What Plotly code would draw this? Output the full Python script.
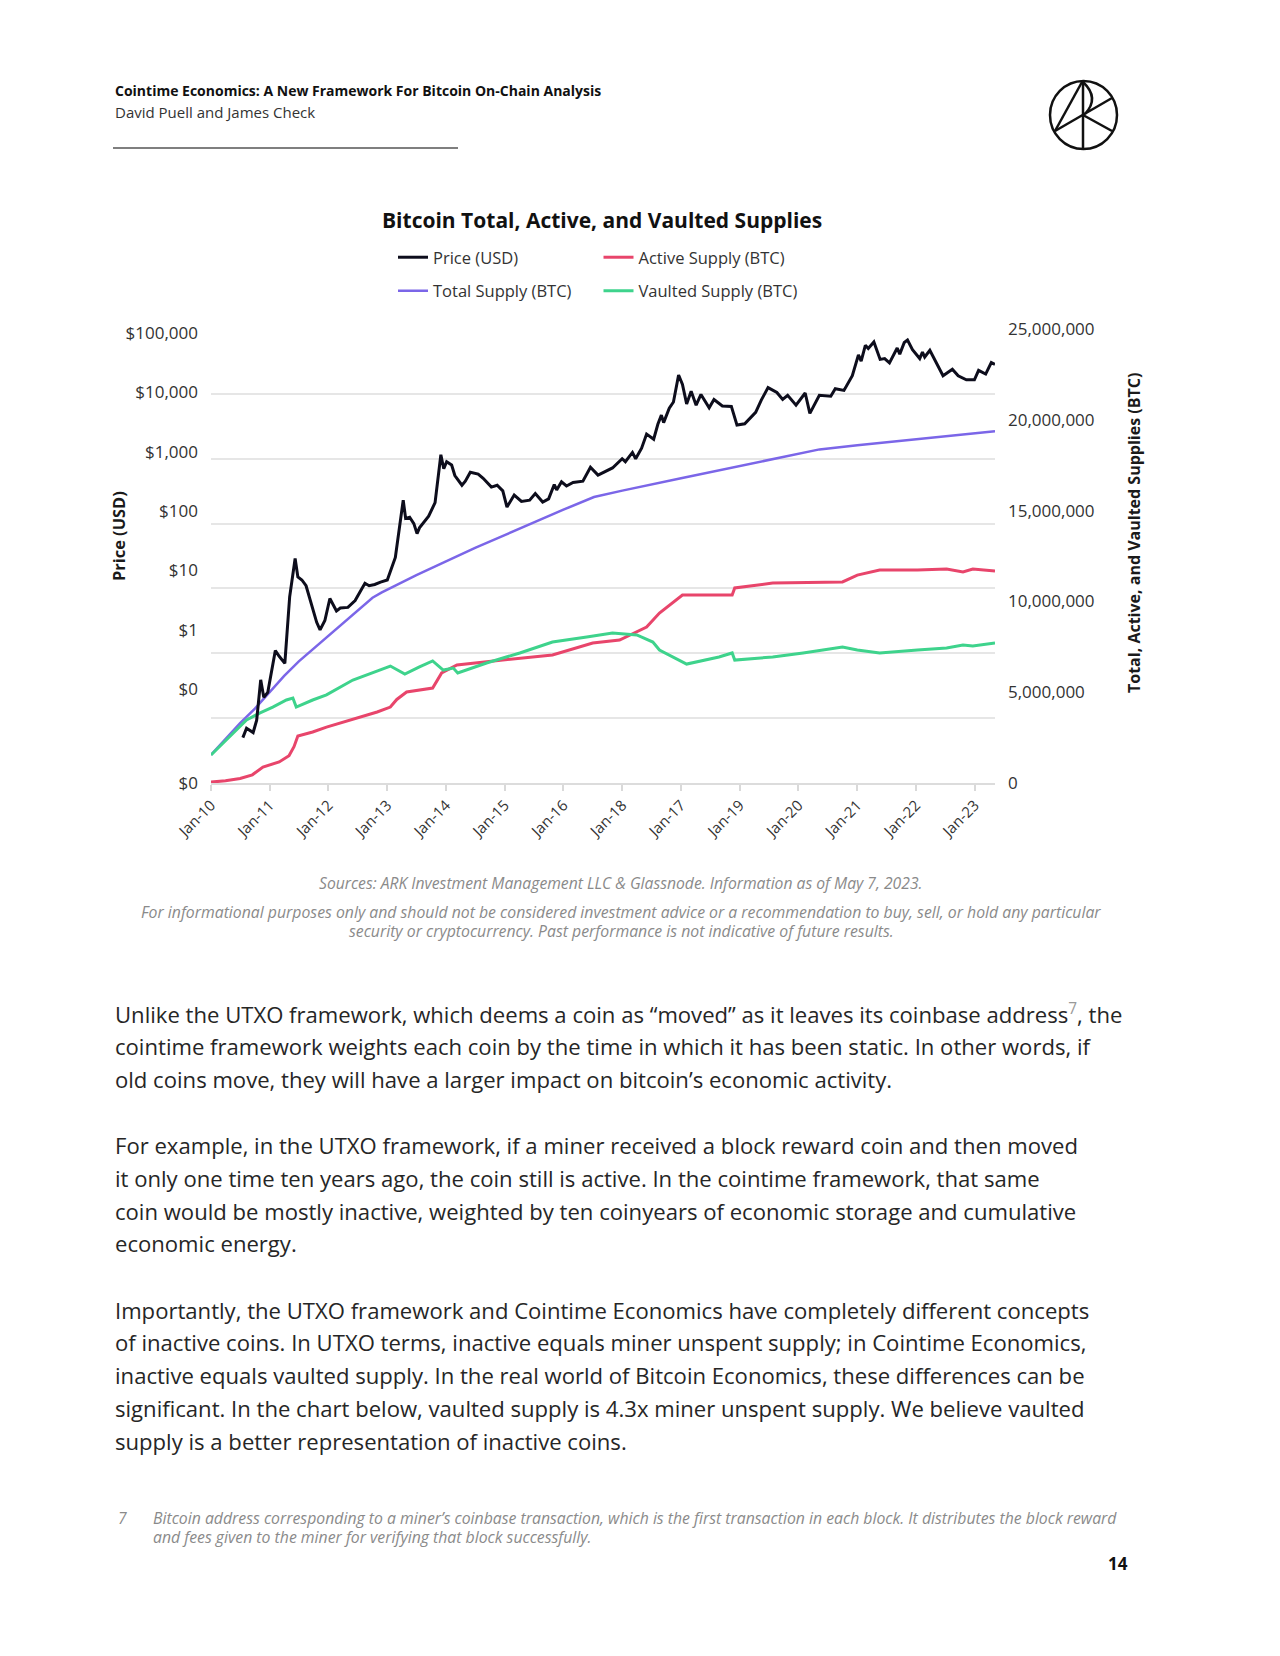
import plotly.graph_objects as go

# ---------------- data ----------------
x_tick_dates = [f"{y}-01-01" for y in range(2010, 2024)]
x_tick_labels = ["Jan-10", "Jan-11", "Jan-12", "Jan-13", "Jan-14", "Jan-15", "Jan-16",
                 "Jan-18", "Jan-17", "Jan-19", "Jan-20", "Jan-21", "Jan-22", "Jan-23"]

price_tick_labels = ["$100,000", "$10,000", "$1,000", "$100", "$10", "$1", "$0", "$0"]
price_tick_exp = [4.94, 4.03, 3.10, 2.20, 1.28, 0.36, -0.55, -2.0]
price_grid_exp = [-2, -1, 0, 1, 2, 3, 4, 5]
supply_ticks = [0, 5_000_000, 10_000_000, 15_000_000, 20_000_000, 25_000_000]

total_dates = ["2010-01-01", "2010-04-01", "2010-07-01", "2010-10-01", "2011-01-01", "2011-04-01",
               "2011-07-01", "2011-10-01", "2012-01-01", "2012-04-01", "2012-07-01", "2012-10-01",
               "2012-11-28", "2013-01-01", "2013-07-01", "2014-01-01", "2014-07-01", "2015-01-01",
               "2015-07-01", "2016-01-01", "2016-07-09", "2017-01-01", "2018-01-01", "2019-01-01",
               "2020-01-01", "2020-05-11", "2021-01-01", "2022-01-01", "2023-01-01", "2023-05-07"]
total_supply_m = [1.55, 2.45, 3.3, 4.1, 5.0, 5.9, 6.7, 7.4, 8.1, 8.8, 9.5, 10.2,
                  10.5, 10.65, 11.45, 12.2, 12.95, 13.65, 14.35, 15.05, 15.75, 16.1, 16.78, 17.45,
                  18.15, 18.37, 18.6, 18.92, 19.25, 19.37]

active_dates = ["2010-01-01", "2010-04-01", "2010-07-01", "2010-09-15", "2010-11-20", "2011-01-01",
                "2011-03-01", "2011-05-01", "2011-06-01", "2011-06-25", "2011-09-25", "2011-12-20",
                "2012-06-25", "2012-10-30", "2013-01-20", "2013-03-01", "2013-05-01", "2013-07-20",
                "2013-10-10", "2013-12-05", "2014-03-10", "2014-12-20", "2015-10-25", "2016-07-01",
                "2016-12-15", "2017-06-01", "2017-08-20", "2018-01-10", "2018-11-15", "2018-12-01",
                "2019-07-25", "2020-10-01", "2021-01-01", "2021-05-20", "2022-01-10", "2022-07-10",
                "2022-10-20", "2022-12-20", "2023-05-07"]
active_supply_m = [0.05, 0.12, 0.25, 0.45, 0.88, 1.0,
                   1.16, 1.5, 2.0, 2.59, 2.81, 3.08,
                   3.58, 3.91, 4.18, 4.6, 5.01, 5.12,
                   5.23, 6.06, 6.5, 6.77, 7.05, 7.71,
                   7.87, 8.59, 9.36, 10.35, 10.35, 10.74,
                   11.01, 11.07, 11.45, 11.73, 11.73, 11.78,
                   11.62, 11.78, 11.67]

vaulted_dates = ["2010-01-01", "2010-04-25", "2010-08-10", "2010-10-30", "2011-01-20", "2011-04-15",
                 "2011-05-25", "2011-06-15", "2011-09-25", "2011-12-20", "2012-06-01", "2013-01-20",
                 "2013-04-20", "2013-07-20", "2013-10-10", "2013-12-15", "2014-02-15", "2014-03-15",
                 "2014-09-10", "2015-04-05", "2015-10-25", "2016-05-25", "2016-11-01", "2017-04-01",
                 "2017-07-10", "2017-08-20", "2018-02-05", "2018-08-25", "2018-11-15", "2018-12-01",
                 "2019-07-25", "2020-01-30", "2020-10-01", "2021-01-01", "2021-05-20", "2022-01-10",
                 "2022-07-10", "2022-10-20", "2022-12-20", "2023-05-07"]
vaulted_supply_m = [1.54, 2.53, 3.47, 3.85, 4.18, 4.57,
                    4.68, 4.18, 4.57, 4.85, 5.67, 6.44,
                    6.0, 6.39, 6.72, 6.22, 6.33, 6.06,
                    6.61, 7.16, 7.76, 8.04, 8.26, 8.15,
                    7.76, 7.32, 6.55, 6.94, 7.16, 6.77,
                    6.94, 7.16, 7.49, 7.32, 7.16, 7.32,
                    7.43, 7.60, 7.54, 7.71]

price_dates = ["2010-07-18", "2010-08-10", "2010-09-20", "2010-10-12", "2010-11-06", "2010-11-25",
               "2010-12-20", "2011-02-05", "2011-03-01", "2011-04-05", "2011-05-05", "2011-06-08",
               "2011-06-25", "2011-07-20", "2011-08-15", "2011-09-25", "2011-10-20", "2011-11-10",
               "2011-12-10", "2012-01-10", "2012-02-20", "2012-03-15", "2012-05-01", "2012-06-15",
               "2012-08-15", "2012-09-10", "2012-10-15", "2012-11-20", "2013-01-01", "2013-02-20",
               "2013-04-10", "2013-04-25", "2013-05-20", "2013-06-15", "2013-07-05", "2013-07-20",
               "2013-09-15", "2013-10-25", "2013-11-18", "2013-11-30", "2013-12-18", "2014-01-05",
               "2014-02-05", "2014-02-25", "2014-04-10", "2014-05-01", "2014-06-01", "2014-07-20",
               "2014-08-20", "2014-10-10", "2014-11-15", "2014-12-20", "2015-01-15", "2015-02-10",
               "2015-03-01", "2015-04-15", "2015-06-05", "2015-07-10", "2015-08-25", "2015-10-01",
               "2015-11-05", "2015-11-20", "2015-12-20", "2016-01-20", "2016-03-01", "2016-05-01",
               "2016-06-17", "2016-08-03", "2016-08-15", "2016-11-01", "2016-12-31", "2017-01-20",
               "2017-03-05", "2017-03-25", "2017-05-01", "2017-06-01", "2017-07-15", "2017-08-10",
               "2017-09-01", "2017-09-15", "2017-10-20", "2017-11-15", "2017-12-17", "2018-01-10",
               "2018-02-05", "2018-03-05", "2018-04-05", "2018-05-05", "2018-06-25", "2018-07-25",
               "2018-09-15", "2018-11-10", "2018-12-15", "2019-02-01", "2019-04-10", "2019-05-15",
               "2019-06-26", "2019-08-20", "2019-09-25", "2019-10-26", "2019-12-17", "2020-02-12",
               "2020-03-12", "2020-05-10", "2020-07-20", "2020-08-17", "2020-10-10", "2020-12-01",
               "2021-01-08", "2021-01-25", "2021-02-20", "2021-03-10", "2021-04-14", "2021-05-23",
               "2021-06-20", "2021-07-20", "2021-09-06", "2021-09-22", "2021-10-20", "2021-11-09",
               "2021-12-10", "2022-01-24", "2022-02-10", "2022-02-24", "2022-03-28", "2022-05-12",
               "2022-06-18", "2022-08-15", "2022-09-20", "2022-11-10", "2022-12-30", "2023-01-25",
               "2023-03-10", "2023-04-14", "2023-05-07"]
price_usd = [0.05, 0.07, 0.06, 0.093, 0.39, 0.21,
             0.25, 1.1, 0.9, 0.7, 7.4, 29,
             15, 13.5, 11, 4.7, 3.0, 2.3,
             3.2, 7.0, 4.5, 5.0, 5.1, 6.5,
             12, 11, 11.5, 12.5, 13.5, 30,
             230, 120, 125, 100, 70, 86,
             130, 210, 650, 1150, 700, 900,
             800, 550, 390, 450, 620, 580,
             500, 365, 390, 320, 180, 230,
             275, 220, 230, 290, 215, 240,
             400, 330, 440, 380, 430, 450,
             740, 560, 580, 720, 1000, 900,
             1250, 1000, 1450, 2400, 2000, 3400,
             4700, 3600, 6000, 7500, 19500, 14000,
             7000, 11000, 6700, 9800, 6100, 8200,
             6500, 6400, 3300, 3450, 5200, 8000,
             12500, 10500, 8200, 9500, 6700, 10300,
             5000, 9500, 9200, 12000, 11300, 19000,
             40000, 32000, 56000, 50000, 63000, 34000,
             35000, 30000, 51000, 41000, 62000, 67500,
             48000, 35000, 44000, 37000, 47000, 28500,
             19000, 24000, 19000, 16500, 16500, 23000,
             20200, 30400, 28500]

# ---------------- page geometry ----------------
W, H = 1280, 1656
PL, PR, PT, PB = 211, 995, 329, 783


def fx(x):
    return (x - PL) / (PR - PL)


def fy(y):
    return (PB - y) / (PB - PT)


BLACK = "#0d0d1c"
PURPLE = "#7b66e8"
RED = "#e8456b"
GREEN = "#3ed38c"
FONT = "Open Sans"
TICKC = "#333333"

fig = go.Figure()
fig.add_trace(go.Scatter(x=total_dates, y=[v * 1e6 for v in total_supply_m], yaxis="y",
                         mode="lines", name="Total Supply (BTC)", legend="legend2", legendrank=1,
                         line=dict(color=PURPLE, width=2.5)))
fig.add_trace(go.Scatter(x=active_dates, y=[v * 1e6 for v in active_supply_m], yaxis="y",
                         mode="lines", name="Active Supply (BTC)", legend="legend", legendrank=2,
                         line=dict(color=RED, width=3)))
fig.add_trace(go.Scatter(x=vaulted_dates, y=[v * 1e6 for v in vaulted_supply_m], yaxis="y",
                         mode="lines", name="Vaulted Supply (BTC)", legend="legend2", legendrank=2,
                         line=dict(color=GREEN, width=3)))
fig.add_trace(go.Scatter(x=price_dates, y=price_usd, yaxis="y2",
                         mode="lines", name="Price (USD)", legend="legend", legendrank=1,
                         line=dict(color=BLACK, width=3)))

legend_common = dict(orientation="h", xanchor="left", yanchor="middle", entrywidth=160.5,
                     entrywidthmode="pixels", font=dict(family=FONT, size=16.5, color=TICKC),
                     bgcolor="rgba(0,0,0,0)", traceorder="normal", borderwidth=0)

fig.update_layout(
    width=W, height=H, autosize=False,
    margin=dict(l=PL, r=W - PR, t=PT, b=H - PB, pad=0),
    paper_bgcolor="white", plot_bgcolor="white",
    font=dict(family=FONT, color=TICKC),
    showlegend=True,
    legend=dict(x=fx(393), y=fy(257.5), **legend_common),
    legend2=dict(x=fx(393), y=fy(291), **legend_common),
    xaxis=dict(type="date", range=["2010-01-01", "2023-05-07"],
               tickvals=x_tick_dates, ticktext=x_tick_labels, tickangle=-45,
               ticks="outside", ticklen=6, tickcolor="#d9d9d9", tickwidth=1.5,
               showline=True, linecolor="#dcdcdc", linewidth=1.5, showgrid=False, zeroline=False,
               tickfont=dict(family=FONT, size=15, color=TICKC)),
    # supplies (main axis, right side)
    yaxis=dict(range=[0, 25_000_000], side="right", tickvals=supply_ticks,
               tickformat=",d", showgrid=False, zeroline=False, showline=False, ticks="",
               ticklabelstandoff=12, tickfont=dict(family=FONT, size=17, color=TICKC)),
    # price (log, left side) with decade gridlines as minor grid
    yaxis2=dict(type="log", range=[-2, 5], overlaying="y", side="left",
                tickvals=[10 ** e for e in price_tick_exp], ticktext=price_tick_labels,
                showgrid=False, zeroline=False, showline=False, ticks="", ticklabelstandoff=12,
                tickfont=dict(family=FONT, size=17, color=TICKC),
                minor=dict(tickvals=[10 ** e for e in price_grid_exp], showgrid=True,
                           gridcolor="#e6e6e6", gridwidth=1.5, ticks="")),
)

ann = []


def text(x, y, s, size, color="#2a2a2a", xanchor="left", angle=0):
    ann.append(dict(x=fx(x), y=fy(y), xref="paper", yref="paper", text=s, showarrow=False,
                    xanchor=xanchor, yanchor="middle", textangle=angle,
                    font=dict(family=FONT, size=size, color=color)))


# header
text(113, 91, "<b>Cointime Economics: A New Framework For Bitcoin On-Chain Analysis</b>", 14, "#111111")
text(113, 112, "David Puell and James Check", 15, "#333333")

# chart title and axis titles
text(602, 220, "<b>Bitcoin Total, Active, and Vaulted Supplies</b>", 21, "#111111", "center")
text(118, 536, "<b>Price (USD)</b>", 16.4, "#1a1a1a", "center", -90)
text(1134, 533, "<b>Total, Active, and Vaulted Supplies (BTC)</b>", 16, "#1a1a1a", "center", -90)

# sources
GRAY = "#8a8a8a"
text(620.5, 883, "<i>Sources: ARK Investment Management LLC &amp; Glassnode. Information as of May 7, 2023.</i>", 15.7, GRAY, "center")
text(621, 912, "<i>For informational purposes only and should not be considered investment advice or a recommendation to buy, sell, or hold any particular</i>", 15.8, GRAY, "center")
text(621, 931, "<i>security or cryptocurrency. Past performance is not indicative of future results.</i>", 15.8, GRAY, "center")

# body
body = [
    (1013, "Unlike the UTXO framework, which deems a coin as “moved” as it leaves its coinbase address<span style='color:#999999'><sup>7</sup></span>, the"),
    (1046, "cointime framework weights each coin by the time in which it has been static. In other words, if"),
    (1079, "old coins move, they will have a larger impact on bitcoin’s economic activity."),
    (1145, "For example, in the UTXO framework, if a miner received a block reward coin and then moved"),
    (1178, "it only one time ten years ago, the coin still is active. In the cointime framework, that same"),
    (1211, "coin would be mostly inactive, weighted by ten coinyears of economic storage and cumulative"),
    (1243, "economic energy."),
    (1310, "Importantly, the UTXO framework and Cointime Economics have completely different concepts"),
    (1342, "of inactive coins. In UTXO terms, inactive equals miner unspent supply; in Cointime Economics,"),
    (1375, "inactive equals vaulted supply. In the real world of Bitcoin Economics, these differences can be"),
    (1408, "significant. In the chart below, vaulted supply is 4.3x miner unspent supply. We believe vaulted"),
    (1441, "supply is a better representation of inactive coins."),
]
for yy, s in body:
    text(113, yy, s, 22.1, "#262626")

# footnote and page number
text(116, 1518, "<i>7</i>", 15.8, GRAY)
text(151, 1518, "<i>Bitcoin address corresponding to a miner’s coinbase transaction, which is the first transaction in each block. It distributes the block reward</i>", 15.8, GRAY)
text(151, 1537, "<i>and fees given to the miner for verifying that block successfully.</i>", 15.8, GRAY)
text(1130, 1563, "<b>14</b>", 17, "#111111", "right")

fig.update_layout(annotations=ann)

# decorative shapes: header rule and logo
shapes = [dict(type="line", xref="paper", yref="paper", x0=fx(113), x1=fx(458), y0=fy(148), y1=fy(148),
               line=dict(color="#555555", width=1.5))]
LW = dict(color="#111111", width=2.5)
shapes.append(dict(type="circle", xref="paper", yref="paper", x0=fx(1050), x1=fx(1117),
                   y0=fy(149), y1=fy(81), line=LW))
for (a, b, c, d) in [(1083, 81, 1083, 149), (1082, 82, 1055, 131), (1055, 131, 1112, 98), (1083, 115, 1112, 131)]:
    shapes.append(dict(type="line", xref="paper", yref="paper", x0=fx(a), y0=fy(b), x1=fx(c), y1=fy(d), line=LW))
shapes.append(dict(type="path", xref="paper", yref="paper",
                   path=f"M{fx(1083)},{fy(82)} Q{fx(1100)},{fy(98)} {fx(1085)},{fy(114)}", line=LW))
fig.update_layout(shapes=shapes)

fig.write_html("out.html", config={"displayModeBar": False},
               post_script="document.body.style.margin='0';document.body.style.overflow='hidden';")
